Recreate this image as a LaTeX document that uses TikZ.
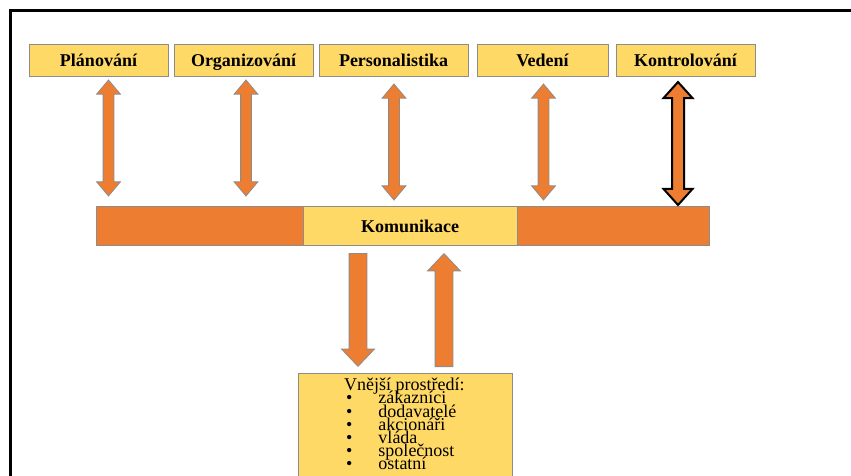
\documentclass[tikz,border=0pt]{standalone}
\usepackage{fontspec}
\setmainfont{Liberation Serif}
\usetikzlibrary{shapes.arrows}

\definecolor{fceyellow}{HTML}{FFD966}
\definecolor{fceorange}{HTML}{ED7D31}

\begin{document}
\begin{tikzpicture}[x=1pt,y=-1pt,
    fce/.style={draw=black!45,fill=fceyellow,line width=0.8pt,inner sep=0pt,
      minimum height=32pt,text height=14pt,text depth=1pt,
      font=\fontsize{18}{20}\selectfont\bfseries},
    link/.style={double arrow,draw=black!45,fill=fceorange,line width=0.8pt,
      rotate=90,inner sep=5pt,double arrow head extend=6.5pt,
      double arrow tip angle=80,minimum height=116pt},
    flow/.style={single arrow,draw=black!45,fill=fceorange,line width=0.8pt,
      inner sep=8.5pt,single arrow head extend=7.5pt,
      single arrow tip angle=87,minimum height=113pt}]
  \useasboundingbox (0,0) rectangle (851,475);
  \clip (0,0) rectangle (851,475);
  \draw[line width=3pt] (10.5,10.5) rectangle (880,500);

  % functions
  \node[fce,minimum width=139pt] (plan) at (98.5,60) {Plánování};
  \node[fce,minimum width=139pt] (org) at (243.5,60) {Organizování};
  \node[fce,minimum width=149pt] (pers) at (393.5,60) {Personalistika};
  \node[fce,minimum width=131pt] (ved) at (542.5,60) {Vedení};
  \node[fce,minimum width=139pt] (kont) at (685.5,60) {Kontrolování};

  % communication bar
  \node[fce,fill=fceorange,minimum width=613pt,minimum height=39pt] (bar) at (402.5,225.5) {};
  \node[fce,minimum width=214pt,minimum height=39pt] (kom) at (410,225.5) {Komunikace};

  \node[link] (lplan) at (108.5,138) {};
  \node[link] (lorg) at (246,138) {};
  \node[link] (lpers) at (394,142) {};
  \node[link] (lved) at (543.5,142) {};
  \node[link,draw=black,line width=2pt,minimum height=123pt,
    double arrow head extend=8.5pt,double arrow tip angle=84] (lkont) at (678,143.5) {};

  % environment
  \node[fce,minimum width=214pt,minimum height=107pt,anchor=north west] (env) at (298,373) {};
  \node[flow,rotate=-90,anchor=tip] (fin) at (358,367) {};
  \node[flow,rotate=90,anchor=tail] (fout) at (444,367) {};
  \node[anchor=base west,inner sep=0pt,font=\fontsize{18}{13.2}\selectfont] (envtext) at (344,390.7)
    {\begin{tabular}[t]{@{}l@{\hspace{26pt}}l@{}}
      \multicolumn{2}{@{}l@{}}{\smash{Vnější prostředí:}}\\
      \smash{\hspace{2pt}\textbullet} & \smash{zákazníci}\\
      \smash{\hspace{2pt}\textbullet} & \smash{dodavatelé}\\
      \smash{\hspace{2pt}\textbullet} & \smash{akcionáři}\\
      \smash{\hspace{2pt}\textbullet} & \smash{vláda}\\
      \smash{\hspace{2pt}\textbullet} & \smash{společnost}\\
      \smash{\hspace{2pt}\textbullet} & \smash{ostatní}
    \end{tabular}};
\end{tikzpicture}
\end{document}
